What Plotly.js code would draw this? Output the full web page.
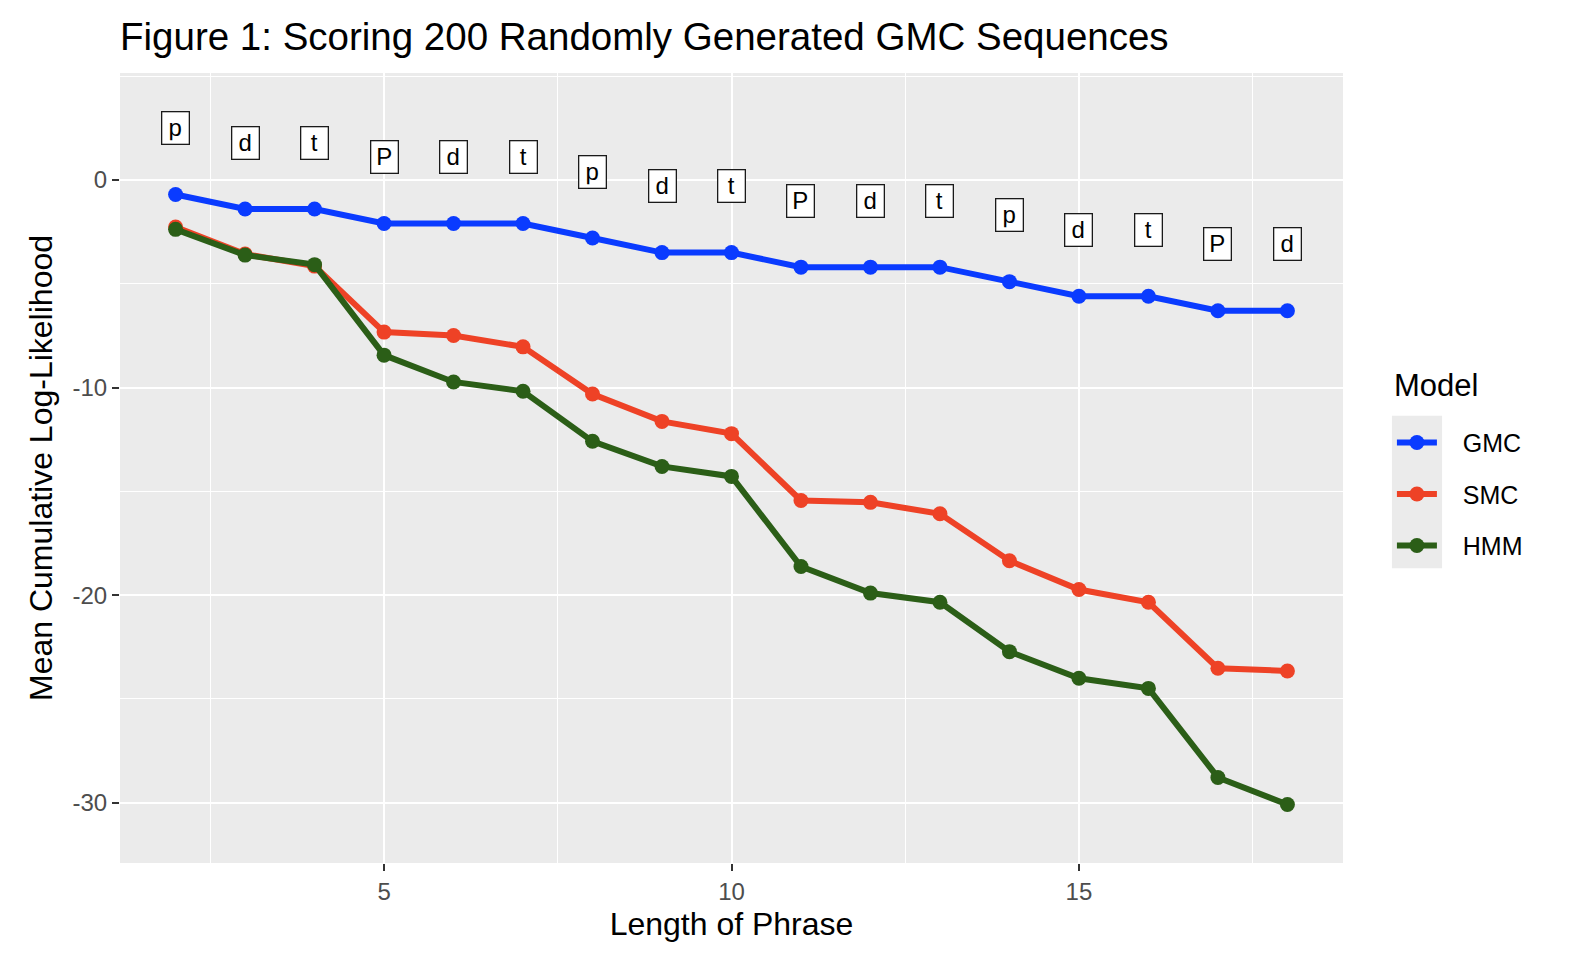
<!DOCTYPE html>
<html>
<head>
<meta charset="utf-8">
<script src="https://cdn.plot.ly/plotly-3.0.1.min.js"></script>
<style>html,body{margin:0;padding:0;background:#fff;}#chart{width:1570px;height:968px;}</style>
</head>
<body>
<div id="chart"></div>
<script>
// Data
var phraseLength = [2,3,4,5,6,7,8,9,10,11,12,13,14,15,16,17,18];
var gmc = [-0.7,-1.4,-1.4,-2.1,-2.1,-2.1,-2.8,-3.5,-3.5,-4.2,-4.2,-4.2,-4.9,-5.6,-5.6,-6.3,-6.3];
var smc = [-2.27,-3.57,-4.15,-7.33,-7.49,-8.04,-10.31,-11.63,-12.22,-15.44,-15.53,-16.08,-18.34,-19.73,-20.34,-23.52,-23.65];
var hmm = [-2.38,-3.62,-4.08,-8.44,-9.73,-10.18,-12.59,-13.80,-14.28,-18.62,-19.90,-20.34,-22.72,-24.00,-24.49,-28.78,-30.08];
var tokenLabels = ["p","d","t","P","d","t","p","d","t","P","d","t","p","d","t","P","d"];
var labelY = [2.5,1.8,1.8,1.1,1.1,1.1,0.4,-0.3,-0.3,-1.0,-1.0,-1.0,-1.7,-2.4,-2.4,-3.1,-3.1];
var xTickVals = [5,10,15];
var xTickText = ["5","10","15"];
var yTickVals = [-30,-20,-10,0];
var yTickText = ["-30","-20","-10","0"];
var modelNames = ["GMC","SMC","HMM"];
var modelColors = ["#0a3bff","#ee4226","#2b5e17"];

var FONT = "Liberation Sans, Arial, Helvetica, sans-serif";
var series = [gmc, smc, hmm];
var traces = series.map(function(vals, i){
  return {
    x: phraseLength, y: vals, type: "scatter", mode: "lines+markers",
    name: "\u00a0\u00a0\u00a0" + modelNames[i], legendgroup: modelNames[i],
    line: {color: modelColors[i], width: 6},
    marker: {color: modelColors[i], size: 15},
    hovertemplate: modelNames[i] + ": %{y}<extra></extra>"
  };
});

var annotations = tokenLabels.map(function(t, i){
  return {
    x: phraseLength[i], y: labelY[i], xref: "x", yref: "y",
    text: t, showarrow: false,
    font: {family: FONT, size: 24, color: "#000"},
    width: 20, height: 25,
    bgcolor: "#ffffff", bordercolor: "#1a1a1a", borderwidth: 1.3, borderpad: 3
  };
});
// legend title drawn as text
annotations.push({
  x: 1.040, y: 0.604, xref: "paper", yref: "paper",
  xanchor: "left", yanchor: "middle", showarrow: false,
  text: "Model", font: {family: FONT, size: 31, color: "#000"}
});

var layout = {
  width: 1570, height: 968,
  paper_bgcolor: "#ffffff", plot_bgcolor: "#ebebeb",
  margin: {l: 120, r: 227, t: 73, b: 105},
  font: {family: FONT, color: "#000"},
  title: {
    text: "Figure 1: Scoring 200 Randomly Generated GMC Sequences",
    font: {family: FONT, size: 38.5, color: "#000"},
    x: 0, xref: "paper", xanchor: "left",
    y: 0.962, yref: "container", yanchor: "middle"
  },
  xaxis: {
    range: [1.2, 18.8], tickmode: "array", tickvals: xTickVals, ticktext: xTickText, zeroline: false,
    showgrid: true, gridcolor: "#ffffff", gridwidth: 2.2,
    minor: {dtick: 2.5, tick0: 0, showgrid: true, gridcolor: "#ffffff", gridwidth: 1.1},
    ticks: "outside", ticklen: 7, tickwidth: 2, tickcolor: "#333333",
    tickfont: {family: FONT, size: 24, color: "#4d4d4d"},
    title: {text: "Length of Phrase", font: {family: FONT, size: 32, color: "#000"}, standoff: 8},
    showline: false
  },
  yaxis: {
    range: [-32.9, 5.15], tickmode: "array", tickvals: yTickVals, ticktext: yTickText, zeroline: false,
    showgrid: true, gridcolor: "#ffffff", gridwidth: 2.2,
    minor: {dtick: 5, tick0: 0, showgrid: true, gridcolor: "#ffffff", gridwidth: 1.1},
    ticks: "outside", ticklen: 7, tickwidth: 2, tickcolor: "#333333",
    tickfont: {family: FONT, size: 24, color: "#4d4d4d"},
    title: {text: "Mean Cumulative Log-Likelihood", font: {family: FONT, size: 32, color: "#000"}, standoff: 10},
    showline: false
  },
  showlegend: true,
  legend: {
    x: 1.040, xanchor: "left", y: 0.561, yanchor: "top",
    bgcolor: "rgba(0,0,0,0)",
    font: {family: FONT, size: 25, color: "#000"},
    tracegroupgap: 16, itemwidth: 40
  },
  shapes: [{
    type: "rect", xref: "paper", yref: "paper",
    x0: 1.040, x1: 1.081, y0: 0.373, y1: 0.566,
    fillcolor: "#ebebeb", line: {width: 0}, layer: "below"
  }],
  annotations: annotations
};

Plotly.newPlot("chart", traces, layout, {displayModeBar: false});
</script>
</body>
</html>
